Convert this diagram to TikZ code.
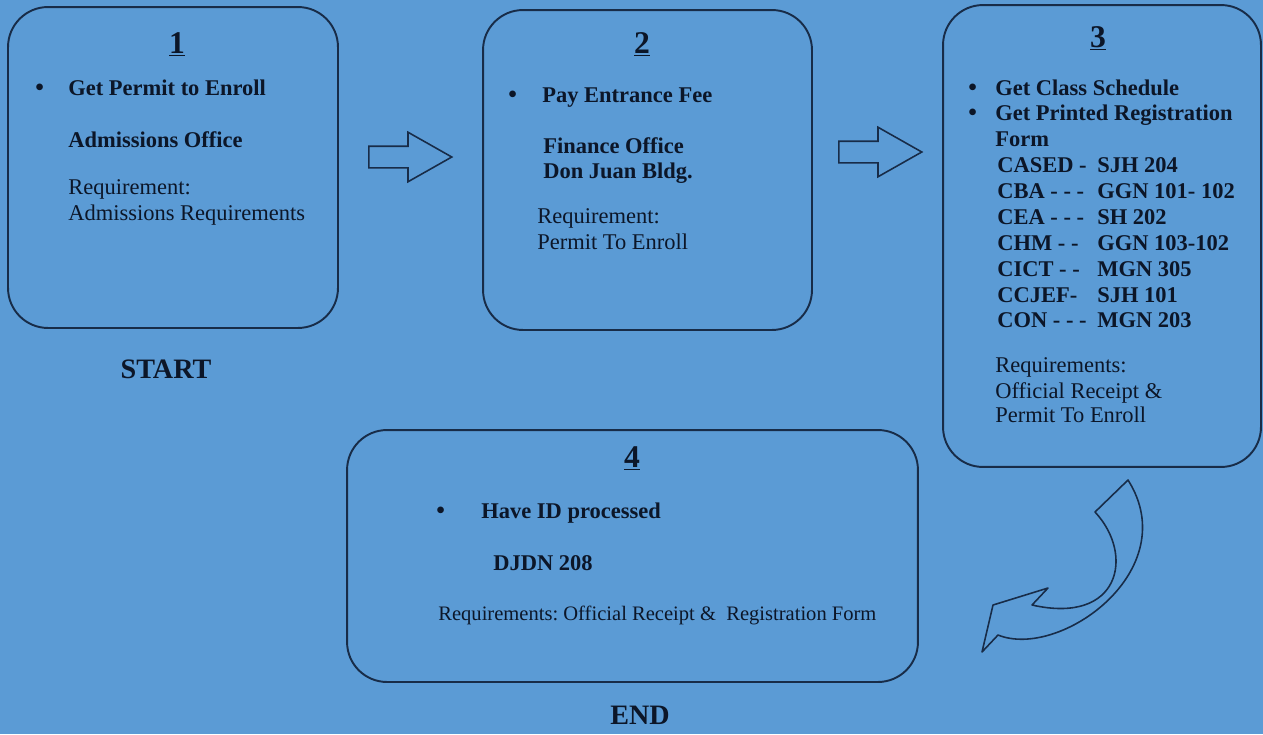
\documentclass[tikz,border=0pt]{standalone}
\usepackage{fontspec}
\setmainfont{Liberation Serif}
\usetikzlibrary{shapes.arrows}
\frenchspacing
\definecolor{bgblue}{RGB}{91,155,213}
\definecolor{ink}{RGB}{12,22,40}
\definecolor{rim}{RGB}{24,44,72}
\tikzstyle{stepbox}=[draw=rim,line width=1.1pt,rounded corners=0.8cm,inner sep=0pt]
\tikzstyle{txt}=[text=ink,inner sep=0pt,anchor=base west,font=\fontsize{12.8}{14.8}\selectfont]
\tikzstyle{btxt}=[txt,font=\fontsize{12.8}{14.8}\selectfont\bfseries]
\tikzstyle{dot}=[txt,font=\fontsize{14}{16}\selectfont\bfseries]
\tikzstyle{num}=[text=ink,inner sep=0pt,anchor=base,font=\fontsize{18}{20}\selectfont\bfseries]
\tikzstyle{big}=[text=ink,inner sep=0pt,anchor=base,font=\fontsize{16}{18}\selectfont\bfseries]
\tikzstyle{blockarrow}=[single arrow,draw=rim,line width=0.9pt,inner xsep=0pt,inner ysep=0.2cm,
  single arrow head extend=0.28cm,single arrow tip angle=59,minimum height=1.66cm,anchor=tail]

\begin{document}
\begin{tikzpicture}[x=0.02cm, y=-0.02cm]

  \useasboundingbox (0,0) rectangle (1263,734);
  \fill[bgblue] (0,0) rectangle (1263,734);

  % the four steps
  \node[stepbox, minimum width=6.6cm, minimum height=6.42cm] (s1) at (173,167.5) {};
  \node[stepbox, minimum width=6.58cm, minimum height=6.4cm] (s2) at (647.5,170) {};
  \node[stepbox, minimum width=6.36cm, minimum height=9.24cm] (s3) at (1102,236) {};
  \node[stepbox, minimum width=11.42cm, minimum height=5.04cm] (s4) at (632.5,556) {};

  \foreach \x/\y/\name/\label in {177/53/n1/1, 642/53/n2/2, 1098/47/n3/3, 632/467/n4/4}
    \node[num] (\name) at (\x,\y) {\underline{\label}};

  % step 1
  \node[dot] (b1) at (35,95) {\textbullet};
  \node[btxt] (permit) at (68,95) {Get Permit to Enroll};
  \node[btxt] (adm) at (68,147) {Admissions Office};
  \node[txt] (req1) at (68,194) {Requirement:};
  \node[txt] (req1b) at (68,220) {Admissions Requirements};
  \node[big] (start) at (166,378) {START};

  % step 2
  \node[dot] (b2) at (508,102) {\textbullet};
  \node[btxt] (fee) at (542,102) {Pay Entrance Fee};
  \node[btxt] (fin) at (543,153) {Finance Office};
  \node[btxt] (dj) at (543,178) {Don Juan Bldg.};
  \node[txt] (req2) at (537,223) {Requirement:};
  \node[txt] (req2b) at (537,249) {Permit To Enroll};

  % step 3
  \foreach \y/\name/\label in {95/sched/Get Class Schedule, 120/form/Get Printed Registration} {
    \node[dot] at (968,\y) {\textbullet};
    \node[btxt] (\name) at (995,\y) {\label};
  }
  \node[btxt] (formb) at (995,146) {Form};
  \foreach \y/\coll/\room in {172/CASED -/SJH 204, 198/CBA - - -/GGN 101- 102, 224/CEA - - -/SH 202,
      250/CHM - -/GGN 103-102, 276/CICT - -/MGN 305, 302/CCJEF-/SJH 101, 327/CON - - -/MGN 203} {
    \node[btxt] at (997,\y) {\coll};
    \node[btxt] at (1097,\y) {\room};
  }
  \node[txt] (req3) at (995,372) {Requirements:};
  \node[txt] (req3b) at (995,398) {Official Receipt \&};
  \node[txt] (req3c) at (995,422) {Permit To Enroll};

  % step 4
  \node[dot] (b4) at (436,518) {\textbullet};
  \node[btxt] (idp) at (481,518) {Have ID processed};
  \node[btxt] (room4) at (493,570) {DJDN 208};
  \node[txt, font=\fontsize{11.7}{14}\selectfont] (req4) at (438,620)
    {Requirements: Official Receipt \& ~Registration Form};
  \node[big] (end) at (640,724) {END};

  % arrows between the steps
  \node[blockarrow] (a12) at (368,157) {};
  \node[blockarrow] (a23) at (838,152) {};
  \draw[rim, line width=0.9pt, line join=round]
    (1128,480) -- (1095,512) .. controls (1135,555) and (1120,625) .. (1032,605)
    -- (1048,588) -- (993,605) -- (982,652) -- (998,635)
    .. controls (1060,660) and (1185,570) .. (1128,480) -- cycle;

\end{tikzpicture}
\end{document}
